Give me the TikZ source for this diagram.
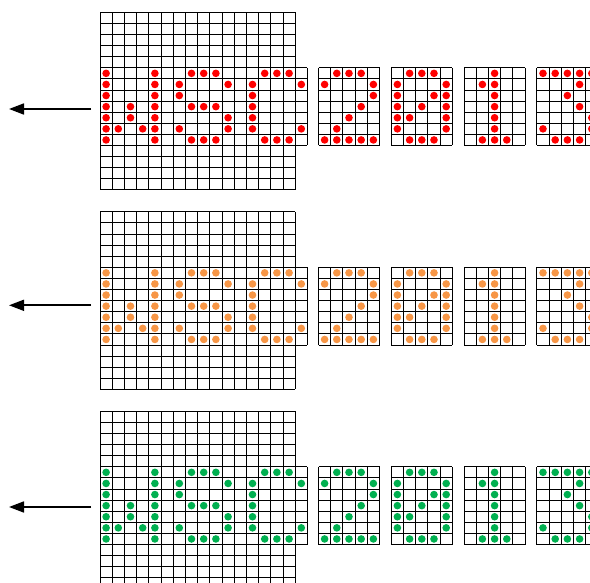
\documentclass[tikz,border=0pt]{standalone}
\usetikzlibrary{arrows.meta}
\definecolor{dotred}{RGB}{255,0,0}
\definecolor{dotorange}{RGB}{247,150,70}
\definecolor{dotgreen}{RGB}{0,176,80}
\tikzset{
  gridline/.style={line width=0.9pt, black},
  pixdot/.style={fill=#1, draw=none},
  leftarrow/.style={line width=1.7pt, -{Triangle[length=15pt,width=11pt]}}
}
\newcommand\cw{12.2}
\newcommand\ch{11.1}
% cell grid: x0, y0, ncols, nrows
\newcommand\cellgrid[4]{%
  \foreach \ii in {0,...,#3}
    \draw[gridline] ({#1+\ii*\cw},{#2}) -- ({#1+\ii*\cw},{#2+#4*\ch});
  \foreach \jj in {0,...,#4}
    \draw[gridline] ({#1},{#2+\jj*\ch}) -- ({#1+#3*\cw},{#2+\jj*\ch});
}
% dots: x0, y0, colour, pattern list row/{cols}
\newcommand\dotpattern[4]{%
  \foreach \rowi/\colset in #4 {
    \foreach \coli in \colset {
      \fill[pixdot=#3] ({#1+(\coli+0.5)*\cw},{#2+(\rowi+0.5)*\ch}) circle (3.8);
    }
  }
}
\newcommand\patWSC{0/{0,4,7,8,9,13,14,15},1/{0,4,6,10,12,16},2/{0,4,6,12},3/{0,2,4,7,8,9,12},4/{0,2,4,10,12},5/{0,1,3,4,6,10,12,16},6/{0,4,7,8,9,13,14,15}}
\newcommand\patTwo{0/{1,2,3},1/{0,4},2/{4},3/{3},4/{2},5/{1},6/{0,1,2,3,4}}
\newcommand\patZero{0/{1,2,3},1/{0,4},2/{0,3,4},3/{0,2,4},4/{0,1,4},5/{0,4},6/{1,2,3}}
\newcommand\patOne{0/{2},1/{1,2},2/{2},3/{2},4/{2},5/{2},6/{1,2,3}}
\newcommand\patThree{0/{0,1,2,3,4},1/{3},2/{2},3/{3},4/{4},5/{0,4},6/{1,2,3}}
% panel: top, colour, arrow y (relative), name prefix
\newcommand\dotpanel[4]{%
  \begin{scope}[shift={(0,#1)}]
    \cellgrid{100}{0}{16}{16}
    \foreach \jj in {5,...,12}
      \draw[gridline] ({100+16*\cw},{\jj*\ch}) -- ({100+17*\cw},{\jj*\ch});
    \draw[gridline] ({100+17*\cw},{5*\ch}) -- ({100+17*\cw},{12*\ch});
    \dotpattern{100}{55.5}{#2}{\patWSC}
    \cellgrid{318.5}{55.5}{5}{7}
    \cellgrid{391.3}{55.5}{5}{7}
    \cellgrid{464.1}{55.5}{5}{7}
    \cellgrid{536.9}{55.5}{5}{7}
    \dotpattern{318.5}{55.5}{#2}{\patTwo}
    \dotpattern{391.3}{55.5}{#2}{\patZero}
    \dotpattern{464.1}{55.5}{#2}{\patOne}
    \dotpattern{536.9}{55.5}{#2}{\patThree}
    \coordinate (#4tail) at (91,#3);
    \coordinate (#4tip) at (9,#3);
    \draw[leftarrow] (#4tail) -- (#4tip);
  \end{scope}
}
\begin{document}
\begin{tikzpicture}[x=1pt,y=-1pt]
  \useasboundingbox (0,0) rectangle (590,583);
  \clip (0,0) rectangle (590,583);
  \fill[white] (0,0) rectangle (590,583);
  \dotpanel{12.3}{dotred}{96.7}{p1}
  \dotpanel{211.8}{dotorange}{93.5}{p2}
  \dotpanel{411.3}{dotgreen}{95.7}{p3}
\end{tikzpicture}
\end{document}
